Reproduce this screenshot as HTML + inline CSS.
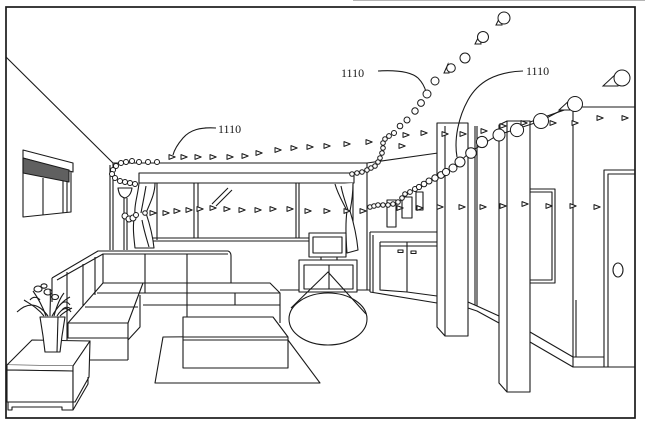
<!DOCTYPE html>
<html><head><meta charset="utf-8"><style>
html,body{margin:0;padding:0;background:#fff;}
svg{display:block;}
text{font-family:"Liberation Serif",serif;font-size:12px;fill:#1a1a1a;}
</style></head><body>
<svg width="645" height="429" viewBox="0 0 645 429" xmlns="http://www.w3.org/2000/svg">
<defs>
<path id="t" d="M-3,-2.4 L3.2,0 L-3,2.4 Z" fill="#fff" stroke="#1a1a1a" stroke-width="1" stroke-linejoin="round"/>
</defs>
<rect width="645" height="429" fill="#fff"/>
<line x1="353" y1="0.5" x2="645" y2="0.5" stroke="#b4b4b4" stroke-width="1"/>
<rect x="6" y="7" width="629" height="411" fill="none" stroke="#1a1a1a" stroke-width="1.7"/>

<g fill="none" stroke="#1a1a1a" stroke-width="1.1" stroke-linejoin="round">
<!-- walls / ceiling -->
<path d="M6,57 L113,163 H367 L438,153"/>
<path d="M110,165 V250 M113,163 V250"/>
<path d="M367,163 V290"/>
<path d="M280,290 H370"/>
<!-- left window -->
<polygon points="23,150 73,163 73,172 23,158" fill="#fff"/>
<polygon points="23,158 69,170 69,182 23,173" fill="#606060"/>
<path d="M23,158 V217 L71,212 V171"/>
<path d="M43,178 V215 M63,181 V213 M67,182 V212"/>
<!-- valance -->
<rect x="139" y="173" width="215" height="10" fill="#fff"/>
<!-- window -->
<path d="M157,183 V240 M194,183 V238 M198,183 V238 M296,183 V238 M299,183 V238 M353,183 V245"/>
<path d="M153,238 H353 M153,241 H353"/>
<path d="M212,204 L228,188 M216,206 L232,190"/>
<!-- lamp -->
<path d="M118,188 H132 C131,195 128,197 125,198 C121,197 119,195 118,188 Z"/>
<path d="M124,198 V250 M127,198 V250"/>
<!-- curtains -->
<path d="M139,183 C138,195 134,205 135,213 C132,226 134,238 135,248 L154,248 C153,238 150,225 146,213 C150,203 155,194 155,183 Z" fill="#fff"/>
<path d="M146,186 C144,198 142,207 141,213 M142,220 C144,231 147,240 149,247"/>
<path d="M335,184 C338,195 344,204 347,211 C345,225 346,240 347,253 L358,250 C357,239 354,224 350,211 C352,201 353,192 353,183" fill="#fff"/>
<path d="M341,186 C343,196 346,204 348,210"/>
<!-- TV & stand -->
<rect x="299" y="260" width="58" height="32" fill="#fff"/>
<rect x="304" y="265" width="49" height="24"/>
<path d="M329,265 V289"/>
<rect x="321" y="256" width="16" height="4" fill="#fff"/>
<rect x="309" y="233" width="37" height="24" fill="#fff"/>
<rect x="313" y="237" width="29" height="16"/>
<!-- cone & ellipse -->
<ellipse cx="328" cy="319" rx="39" ry="26"/>
<path d="M291,308 L328,272 L366,314"/>
<!-- cabinet -->
<path d="M370,232 H437 M370,232 V292 M373,235 V292"/>
<path d="M380,242 H437 M380,246 H437 M380,242 V290 L407,292 L437,296 M407,242 V292"/>
<rect x="398" y="250" width="5" height="2.5"/>
<rect x="411" y="251" width="5" height="2.5"/>
<path d="M370,292 L437,303"/>
<!-- hanging frames -->
<rect x="387" y="200" width="9" height="27" fill="#fff"/>
<rect x="402" y="197" width="10" height="21" fill="#fff"/>
<rect x="416" y="192" width="7" height="18" fill="#fff"/>
<!-- wall between pillars -->
<path d="M475,126 V305 M477,126 V306"/>
<path d="M468,302 L477,306 L499,316 M468,308 L477,311 L499,323"/>
<!-- pillar 1 -->
<path d="M437,123 H468 V336 H445 L437,327 Z" fill="#fff"/>
<path d="M445,126 V336"/>
<!-- pillar 2 -->
<path d="M499,125 L507,121 H530 V392 H507 L499,383 Z" fill="#fff"/>
<path d="M507,121 V392"/>
<!-- right walls -->
<path d="M530,122 L573,107 H635"/>
<path d="M573,107 V367 M576,300 V357"/>
<path d="M530,332 L573,357 H604 M530,342 L573,367 H635"/>
<path d="M530,189 H555 V283 H530 M530,192 H552 V280 H530"/>
<path d="M604,367 V170 H635 M608,367 V174 H635"/>
<ellipse cx="618" cy="270" rx="5" ry="7"/>

<!-- rug -->
<polygon points="163,337 155,383 320,383 285,336"/>
<!-- sofa -->
<path d="M52,278 L98,251 H228 Q231,252 231,256 V283"/>
<path d="M57,280 L103,254 H228"/>
<path d="M103,254 V283 M145,254 V293 M187,254 V283"/>
<path d="M52,278 V302 M67,272 V340 M83,264 V306 M95,257 V295"/>
<path d="M103,283 H270 L280,293 V323"/>
<path d="M142,293 H280 M143,305 H280 M235,293 V305 M187,283 V317"/>
<path d="M103,283 L68,323 H128 L143,283"/>
<path d="M97,293 H142 M85,307 H138"/>
<path d="M68,323 V338 H128 M128,323 V360 M90,360 H128 M140,295 V327 L128,340"/>
<!-- coffee table -->
<path d="M183,317 H273 L288,337 V368 H183 Z" fill="#fff"/>
<path d="M183,337 H288 M183,340 H288"/>
<!-- plant table -->
<polygon points="7,365 32,340 90,341 73,366" fill="#fff"/>
<path d="M7,365 V370 L73,371 V366" fill="#fff"/>
<polygon points="7,370 73,371 73,402 7,402" fill="#fff"/>
<polygon points="73,366 90,341 89,377 75,402 73,402" fill="#fff"/>
<path d="M8,402 V410 H12 V407 H62 V410 H73 V402 M73,410 L88,384 V377"/>
<!-- vase & plant -->
<path d="M40,317 H65 L62,336 L60,352 H45 L43,336 Z" fill="#fff"/>
<path d="M58,317 L57,352"/>
<path d="M48,316 C40,305 30,300 17,312"/>
<path d="M46,316 C42,305 38,298 33,291"/>
<path d="M50,316 C50,305 51,297 50,289"/>
<path d="M54,316 C57,305 60,298 64,293"/>
<path d="M57,316 C62,308 67,306 71,312"/>
<path d="M52,316 C58,306 64,300 70,297"/>
<path d="M44,316 C38,308 30,304 24,300"/>
<path d="M60,316 C64,312 68,310 72,308"/>
<ellipse cx="38" cy="289" rx="4" ry="3"/>
<ellipse cx="48" cy="292" rx="4" ry="3"/>
<ellipse cx="55" cy="297" rx="3.5" ry="2.5"/>
<ellipse cx="44" cy="286" rx="3" ry="2.2"/>
<path d="M30,300 C33,296 38,297 40,300 M60,305 C64,300 68,302 70,305 M62,310 C65,306 69,307 71,309"/>

<!-- leaders -->
<path d="M378,71 C395,70 410,71 418,78 C423,83 425,88 426,92"/>
<path d="M523,71 C495,72 478,82 468,100 C458,118 454,140 457,157"/>
<path d="M216,128 C200,127 190,130 183,138 C177,145 174,151 173,155"/>
</g>

<!-- bead chains -->
<g fill="#fff" stroke="#1a1a1a" stroke-width="1">
<circle cx="157" cy="162" r="2.5"/><circle cx="148" cy="162" r="2.5"/><circle cx="139" cy="162" r="2.5"/>
<circle cx="132" cy="161" r="2.5"/><circle cx="126" cy="162" r="2.5"/><circle cx="121" cy="163" r="2.5"/>
<circle cx="116" cy="166" r="2.5"/><circle cx="113" cy="170" r="2.5"/><circle cx="112" cy="174" r="2.5"/>
<circle cx="115" cy="178" r="2.5"/><circle cx="120" cy="181" r="2.5"/><circle cx="125" cy="182" r="2.5"/>
<circle cx="130" cy="183" r="2.5"/><circle cx="135" cy="184" r="2.5"/>
<circle cx="125" cy="216" r="3"/><circle cx="129" cy="219" r="3"/><circle cx="133" cy="218" r="3"/><circle cx="136" cy="215" r="2.5"/><circle cx="145" cy="213" r="2.3"/>
<circle cx="352" cy="174" r="2.3"/><circle cx="357" cy="173" r="2.3"/><circle cx="362" cy="172" r="2.3"/>
<circle cx="367" cy="170" r="2.3"/><circle cx="371" cy="168" r="2.3"/><circle cx="375" cy="166" r="2.3"/>
<circle cx="378" cy="162" r="2.3"/><circle cx="380" cy="158" r="2.3"/><circle cx="382" cy="153" r="2.3"/>
<circle cx="383" cy="148" r="2.3"/><circle cx="383" cy="143" r="2.3"/><circle cx="385" cy="139" r="2.3"/>
<circle cx="389" cy="136" r="2.4"/><circle cx="394" cy="133" r="2.5"/><circle cx="400" cy="126" r="2.8"/>
<circle cx="407" cy="120" r="3"/><circle cx="415" cy="111" r="3.2"/><circle cx="421" cy="103" r="3.4"/>
<circle cx="427" cy="94" r="4"/><circle cx="435" cy="81" r="4"/>
<path d="M444,73 L448,64 L449,73 Z"/><circle cx="451" cy="68" r="4.3"/>
<circle cx="465" cy="58" r="5"/>
<path d="M475,44 L480,34 L481,44 Z"/><circle cx="483" cy="37" r="5.5"/>
<path d="M496,25 L501,15 L502,25 Z"/><circle cx="504" cy="18" r="6"/>
<polyline points="370,207 388,205 398,203 410,192 429,181 453,168 470,152 498,135 541,121 575,103" fill="none"/>
<circle cx="370" cy="207" r="2.3"/><circle cx="374" cy="206" r="2.3"/><circle cx="378" cy="205" r="2.3"/>
<circle cx="383" cy="205" r="2.3"/><circle cx="388" cy="205" r="2.3"/><circle cx="393" cy="204" r="2.3"/>
<circle cx="398" cy="202" r="2.3"/><circle cx="402" cy="198" r="2.3"/><circle cx="405" cy="194" r="2.3"/>
<circle cx="410" cy="192" r="2.4"/><circle cx="415" cy="189" r="2.5"/><circle cx="419" cy="187" r="2.6"/>
<circle cx="424" cy="184" r="2.8"/><circle cx="429" cy="181" r="3"/><circle cx="435" cy="178" r="3.2"/>
<circle cx="441" cy="175" r="3.4"/><circle cx="446" cy="172" r="3.6"/><circle cx="453" cy="168" r="4"/>
<circle cx="460" cy="162" r="5"/><circle cx="471" cy="153" r="5.3"/><circle cx="482" cy="142" r="5.6"/>
<circle cx="499" cy="135" r="6"/><circle cx="517" cy="130" r="6.6"/><circle cx="541" cy="121" r="7.5"/>
<path d="M559,110 L572,98 L572,110 Z"/><circle cx="575" cy="104" r="7.5"/>
<path d="M603,86 L618,72 L618,86 Z"/><circle cx="622" cy="78" r="8"/>
</g>

<!-- markers -->
<g>
<use href="#t" x="172" y="157"/><use href="#t" x="184" y="157"/><use href="#t" x="198" y="157"/>
<use href="#t" x="213" y="157"/><use href="#t" x="230" y="157"/><use href="#t" x="245" y="156"/>
<use href="#t" x="259" y="153"/><use href="#t" x="278" y="150"/><use href="#t" x="294" y="148"/>
<use href="#t" x="310" y="147"/><use href="#t" x="327" y="146"/><use href="#t" x="347" y="144"/>
<use href="#t" x="369" y="142"/><use href="#t" x="402" y="146"/><use href="#t" x="406" y="135"/>
<use href="#t" x="424" y="133"/><use href="#t" x="445" y="134"/><use href="#t" x="463" y="134"/>
<use href="#t" x="484" y="131"/><use href="#t" x="503" y="126"/><use href="#t" x="524" y="123"/>
<use href="#t" x="553" y="123"/><use href="#t" x="575" y="123"/><use href="#t" x="600" y="118"/>
<use href="#t" x="625" y="118"/>
<use href="#t" x="153" y="213"/><use href="#t" x="166" y="213"/><use href="#t" x="177" y="211"/>
<use href="#t" x="189" y="210"/><use href="#t" x="200" y="209"/><use href="#t" x="213" y="208"/>
<use href="#t" x="227" y="209"/><use href="#t" x="242" y="210"/><use href="#t" x="258" y="210"/>
<use href="#t" x="273" y="209"/><use href="#t" x="290" y="209"/><use href="#t" x="308" y="211"/>
<use href="#t" x="327" y="211"/><use href="#t" x="347" y="211"/><use href="#t" x="363" y="211"/>
<use href="#t" x="400" y="208"/><use href="#t" x="420" y="208"/><use href="#t" x="440" y="207"/>
<use href="#t" x="462" y="207"/><use href="#t" x="483" y="207"/><use href="#t" x="503" y="206"/>
<use href="#t" x="525" y="204"/><use href="#t" x="549" y="206"/><use href="#t" x="573" y="206"/>
<use href="#t" x="597" y="207"/>
</g>

<text x="341" y="77">1110</text>
<text x="526" y="75">1110</text>
<text x="218" y="133">1110</text>
</svg>
</body></html>
